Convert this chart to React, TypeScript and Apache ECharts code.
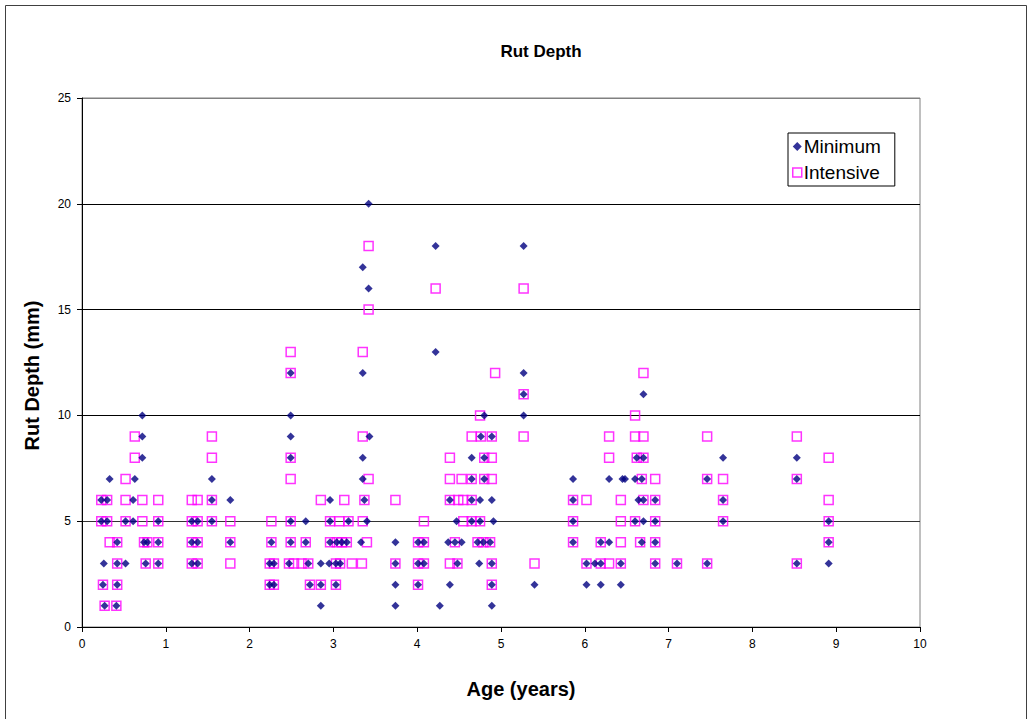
import React, { useEffect, useRef } from "react";
import * as echarts from "echarts";

const title = "Rut Depth";
const xName = "Age (years)";
const yName = "Rut Depth (mm)";
const seriesNames = ["Minimum", "Intensive"];

// [age (years), rut depth (mm)]
const minimum: number[][] = [
  [0.23, 6], [0.30, 6], [0.23, 5], [0.30, 5], [0.26, 3], [0.25, 2], [0.27, 1], [0.33, 7],
  [0.42, 4], [0.42, 3], [0.42, 2], [0.41, 1], [0.52, 5], [0.52, 3], [0.63, 7], [0.61, 6],
  [0.61, 5], [0.72, 10], [0.72, 9], [0.72, 8], [0.74, 4], [0.78, 4], [0.76, 3], [0.91, 5],
  [0.91, 4], [0.91, 3],
  [1.31, 5], [1.38, 5], [1.31, 4], [1.38, 4], [1.31, 3], [1.38, 3], [1.55, 7], [1.55, 6],
  [1.55, 5], [1.77, 6], [1.77, 4],
  [2.26, 4], [2.24, 3], [2.29, 3], [2.24, 2], [2.29, 2], [2.49, 12], [2.49, 10], [2.49, 9],
  [2.49, 8], [2.49, 5], [2.49, 4], [2.47, 3], [2.67, 5], [2.67, 4], [2.70, 3], [2.72, 2],
  [2.85, 3], [2.85, 2], [2.85, 1], [2.96, 6], [2.96, 5], [2.96, 4], [2.95, 3],
  [3.04, 4], [3.10, 4], [3.16, 4], [3.03, 3], [3.08, 3], [3.03, 2], [3.18, 5], [3.42, 20],
  [3.35, 17], [3.42, 16], [3.35, 12], [3.43, 9], [3.35, 8], [3.35, 7], [3.37, 6], [3.40, 5],
  [3.33, 4], [3.74, 4], [3.74, 3], [3.74, 2], [3.74, 1],
  [4.01, 4], [4.08, 4], [4.01, 3], [4.08, 3], [4.01, 2], [4.22, 18], [4.22, 13], [4.27, 1],
  [4.80, 10], [4.76, 9], [4.89, 9], [4.65, 8], [4.80, 8], [4.65, 7], [4.80, 7], [4.39, 6],
  [4.65, 6], [4.75, 6], [4.89, 6], [4.47, 5], [4.65, 5], [4.75, 5], [4.91, 5], [4.37, 4],
  [4.45, 4], [4.53, 4], [4.72, 4], [4.79, 4], [4.87, 4], [4.48, 3], [4.74, 3], [4.89, 3],
  [4.39, 2], [4.89, 2], [4.89, 1],
  [5.27, 18], [5.27, 12], [5.27, 11], [5.27, 10], [5.40, 2], [5.86, 7], [5.86, 6], [5.86, 5],
  [5.86, 4],
  [6.02, 3], [6.02, 2], [6.12, 3], [6.19, 4], [6.19, 3], [6.19, 2], [6.29, 7], [6.29, 4],
  [6.45, 7], [6.43, 3], [6.43, 2], [6.70, 11], [6.62, 8], [6.70, 8], [6.48, 7], [6.60, 7],
  [6.68, 7], [6.64, 6], [6.70, 6], [6.84, 6], [6.60, 5], [6.70, 5], [6.84, 5], [6.68, 4],
  [6.84, 4], [6.84, 3],
  [7.10, 3], [7.46, 7], [7.46, 3], [7.65, 8], [7.65, 6], [7.65, 5], [8.53, 8], [8.53, 7],
  [8.53, 3], [8.91, 5], [8.91, 4], [8.91, 3],
];

const intensive: number[][] = [
  [0.23, 6], [0.30, 6], [0.23, 5], [0.30, 5], [0.25, 2], [0.27, 1], [0.33, 4], [0.42, 4],
  [0.42, 3], [0.42, 2], [0.41, 1], [0.52, 7], [0.52, 6], [0.52, 5], [0.63, 9], [0.63, 8],
  [0.72, 6], [0.72, 5], [0.74, 4], [0.78, 4], [0.76, 3], [0.91, 6], [0.91, 5], [0.91, 4],
  [0.91, 3],
  [1.31, 6], [1.38, 6], [1.31, 5], [1.38, 5], [1.31, 4], [1.38, 4], [1.31, 3], [1.38, 3],
  [1.55, 9], [1.55, 8], [1.55, 6], [1.55, 5], [1.77, 5], [1.77, 4], [1.77, 3],
  [2.26, 5], [2.26, 4], [2.24, 3], [2.29, 3], [2.24, 2], [2.29, 2], [2.49, 13], [2.49, 12],
  [2.49, 8], [2.49, 7], [2.49, 5], [2.49, 4], [2.47, 3], [2.53, 3], [2.67, 4], [2.62, 3],
  [2.70, 3], [2.72, 2], [2.85, 6], [2.85, 2], [2.96, 5], [2.96, 4],
  [3.07, 5], [3.18, 5], [3.04, 4], [3.10, 4], [3.16, 4], [3.03, 3], [3.08, 3], [3.22, 3],
  [3.34, 3], [3.03, 2], [3.13, 6], [3.42, 18], [3.42, 15], [3.35, 13], [3.35, 9], [3.42, 7],
  [3.37, 6], [3.35, 5], [3.40, 4], [3.74, 6], [3.74, 3],
  [4.08, 5], [4.01, 4], [4.08, 4], [4.01, 3], [4.08, 3], [4.01, 2], [4.22, 16],
  [4.93, 12], [4.75, 10], [4.65, 9], [4.76, 9], [4.89, 9], [4.39, 8], [4.80, 8], [4.89, 8],
  [4.39, 7], [4.53, 7], [4.65, 7], [4.80, 7], [4.89, 7], [4.39, 6], [4.49, 6], [4.55, 6],
  [4.65, 6], [4.55, 5], [4.65, 5], [4.75, 5], [4.45, 4], [4.72, 4], [4.79, 4], [4.87, 4],
  [4.39, 3], [4.48, 3], [4.89, 3], [4.89, 2],
  [5.27, 16], [5.27, 11], [5.27, 9], [5.40, 3], [5.86, 6], [5.86, 5], [5.86, 4],
  [6.02, 6], [6.02, 3], [6.19, 4], [6.19, 3], [6.29, 9], [6.29, 8], [6.29, 3], [6.43, 6],
  [6.43, 5], [6.43, 4], [6.43, 3], [6.70, 12], [6.60, 10], [6.60, 9], [6.70, 9], [6.62, 8],
  [6.70, 8], [6.68, 7], [6.84, 7], [6.70, 6], [6.84, 6], [6.60, 5], [6.84, 5], [6.66, 4],
  [6.84, 4], [6.84, 3],
  [7.10, 3], [7.46, 9], [7.46, 7], [7.46, 3], [7.65, 7], [7.65, 6], [7.65, 5], [8.53, 9],
  [8.53, 7], [8.53, 3], [8.91, 8], [8.91, 6], [8.91, 5], [8.91, 4],
];

const FONT = "'Liberation Sans', Arial, sans-serif";

export default function App() {
  const ref = useRef<HTMLDivElement>(null);

  useEffect(() => {
    document.body.style.margin = "0";
    if (!ref.current) return;
    const chart = echarts.init(ref.current, undefined, { renderer: "svg" });
    chart.setOption({
      animation: false,
      backgroundColor: "#ffffff",
      title: {
        text: title,
        left: 536,
        textAlign: "center",
        top: 38,
        textStyle: { fontFamily: FONT, fontSize: 17, fontWeight: "bold", color: "#000" },
      },
      legend: {
        orient: "vertical",
        left: 788,
        top: 133,
        itemGap: 7,
        itemWidth: 9,
        itemHeight: 9,
        padding: [4, 14, 4, 4],
        borderColor: "#000",
        borderWidth: 1,
        backgroundColor: "#fff",
        textStyle: { fontFamily: FONT, fontSize: 19, color: "#000", padding: [0, 0, 0, -3] },
        data: [
          { name: seriesNames[0], icon: "diamond" },
          { name: seriesNames[1], icon: "rect", itemStyle: { color: "#fff", borderColor: "#ff00ff", borderWidth: 1.5 } },
        ],
      },
      grid: {
        left: 82,
        right: 110,
        top: 98,
        bottom: 92,
        show: true,
        borderColor: "#808080",
        borderWidth: 1,
        backgroundColor: "transparent",
      },
      xAxis: {
        type: "value",
        min: 0,
        max: 10,
        interval: 1,
        name: xName,
        nameLocation: "middle",
        nameGap: 52,
        nameTextStyle: { fontFamily: FONT, fontSize: 20, fontWeight: "bold", color: "#000", padding: [0, 0, 0, 40] },
        axisLine: { show: true, lineStyle: { color: "#000", width: 1 } },
        axisTick: { show: true, length: 5, lineStyle: { color: "#000" } },
        axisLabel: { fontFamily: FONT, fontSize: 12, color: "#000", margin: 11 },
        splitLine: { show: false },
      },
      yAxis: {
        type: "value",
        min: 0,
        max: 25,
        interval: 5,
        name: yName,
        nameLocation: "middle",
        nameGap: 40,
        nameRotate: 90,
        nameTextStyle: { fontFamily: FONT, fontSize: 20, fontWeight: "bold", color: "#000", padding: [0, 26, 0, 0] },
        axisLine: { show: true, lineStyle: { color: "#000", width: 1 } },
        axisTick: { show: true, length: 5, lineStyle: { color: "#000" } },
        axisLabel: { fontFamily: FONT, fontSize: 12, color: "#000", margin: 11 },
        splitLine: { show: true, lineStyle: { color: ["#000", "#333", "#000", "#000", "#000", "#808080"], width: 1 } },
      },
      graphic: [
        {
          type: "rect",
          shape: { x: 5.5, y: 5.5, width: 1021, height: 730 },
          style: { fill: "none", stroke: "#404040", lineWidth: 1 },
          silent: true,
        },
      ],
      series: [
        {
          name: seriesNames[1],
          type: "scatter",
          data: intensive,
          symbol: "rect",
          symbolSize: 9,
          itemStyle: { color: "rgba(255,255,255,0)", borderColor: "#ff00ff", borderWidth: 1.5 },
          z: 2,
        },
        {
          name: seriesNames[0],
          type: "scatter",
          data: minimum,
          symbol: "diamond",
          symbolSize: 8,
          itemStyle: { color: "#000080" },
          z: 3,
        },
      ],
    });
    return () => chart.dispose();
  }, []);

  return <div ref={ref} style={{ position: "absolute", left: 0, top: 0, width: 1030, height: 719 }} />;
}
